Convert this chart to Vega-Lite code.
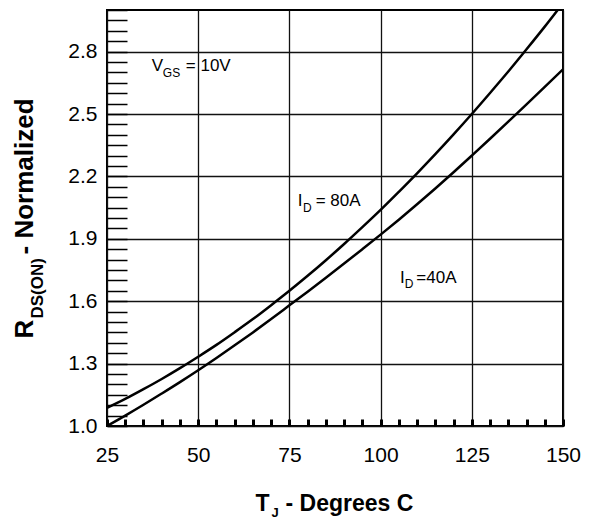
{
  "$schema": "https://vega.github.io/schema/vega-lite/v6.json",
  "width": 456,
  "height": 416,
  "autosize": {"type": "none"},
  "padding": {"left": 107, "top": 10, "right": 34, "bottom": 96},
  "background": "white",
  "config": {
    "view": {"stroke": "#000", "strokeWidth": 2},
    "font": "Liberation Sans",
    "axis": {"labelFont": "Liberation Sans", "titleFont": "Liberation Sans", "labelColor": "#000", "titleColor": "#000", "domain": false}
  },
  "datasets": {
    "curves": [
      {"T": 25, "R": 1.087, "ID": "80A"}, {"T": 30, "R": 1.130, "ID": "80A"}, {"T": 35, "R": 1.177, "ID": "80A"}, {"T": 40, "R": 1.226, "ID": "80A"}, {"T": 45, "R": 1.278, "ID": "80A"}, {"T": 50, "R": 1.333, "ID": "80A"}, {"T": 55, "R": 1.390, "ID": "80A"}, {"T": 60, "R": 1.451, "ID": "80A"}, {"T": 65, "R": 1.514, "ID": "80A"}, {"T": 70, "R": 1.581, "ID": "80A"}, {"T": 75, "R": 1.650, "ID": "80A"}, {"T": 80, "R": 1.722, "ID": "80A"}, {"T": 85, "R": 1.797, "ID": "80A"}, {"T": 90, "R": 1.875, "ID": "80A"}, {"T": 95, "R": 1.956, "ID": "80A"}, {"T": 100, "R": 2.039, "ID": "80A"}, {"T": 105, "R": 2.126, "ID": "80A"}, {"T": 110, "R": 2.215, "ID": "80A"}, {"T": 115, "R": 2.307, "ID": "80A"}, {"T": 120, "R": 2.402, "ID": "80A"}, {"T": 125, "R": 2.500, "ID": "80A"}, {"T": 130, "R": 2.601, "ID": "80A"}, {"T": 135, "R": 2.704, "ID": "80A"}, {"T": 140, "R": 2.811, "ID": "80A"}, {"T": 145, "R": 2.920, "ID": "80A"}, {"T": 150, "R": 3.033, "ID": "80A"},
      {"T": 25, "R": 1.0, "ID": "40A"}, {"T": 30, "R": 1.050, "ID": "40A"}, {"T": 35, "R": 1.102, "ID": "40A"}, {"T": 40, "R": 1.156, "ID": "40A"}, {"T": 45, "R": 1.211, "ID": "40A"}, {"T": 50, "R": 1.268, "ID": "40A"}, {"T": 55, "R": 1.327, "ID": "40A"}, {"T": 60, "R": 1.388, "ID": "40A"}, {"T": 65, "R": 1.450, "ID": "40A"}, {"T": 70, "R": 1.514, "ID": "40A"}, {"T": 75, "R": 1.580, "ID": "40A"}, {"T": 80, "R": 1.646, "ID": "40A"}, {"T": 85, "R": 1.713, "ID": "40A"}, {"T": 90, "R": 1.781, "ID": "40A"}, {"T": 95, "R": 1.850, "ID": "40A"}, {"T": 100, "R": 1.920, "ID": "40A"}, {"T": 105, "R": 1.992, "ID": "40A"}, {"T": 110, "R": 2.066, "ID": "40A"}, {"T": 115, "R": 2.142, "ID": "40A"}, {"T": 120, "R": 2.220, "ID": "40A"}, {"T": 125, "R": 2.300, "ID": "40A"}, {"T": 130, "R": 2.381, "ID": "40A"}, {"T": 135, "R": 2.463, "ID": "40A"}, {"T": 140, "R": 2.546, "ID": "40A"}, {"T": 145, "R": 2.630, "ID": "40A"}, {"T": 150, "R": 2.715, "ID": "40A"}
    ],
    "labels": [
      {"T": 37.3, "R": 2.705, "text": "V"},
      {"T": 46.6, "R": 2.705, "text": "= 10V"},
      {"T": 77.3, "R": 2.06, "text": "I"},
      {"T": 82.2, "R": 2.06, "text": "= 80A"},
      {"T": 105.3, "R": 1.686, "text": "I"},
      {"T": 109.8, "R": 1.686, "text": "=40A"}
    ],
    "subs": [
      {"T": 40.3, "R": 2.68, "text": "GS"},
      {"T": 78.7, "R": 2.03, "text": "D"},
      {"T": 106.6, "R": 1.662, "text": "D"}
    ]
  },
  "resolve": {"axis": {"x": "independent", "y": "independent"}},
  "layer": [
    {
      "data": {"name": "curves"},
      "mark": {"type": "line", "color": "#000", "strokeWidth": 2.5, "interpolate": "monotone", "clip": true},
      "encoding": {
        "x": {"field": "T", "type": "quantitative", "scale": {"domain": [25, 150], "nice": false, "zero": false},
          "axis": {"orient": "bottom", "values": [25, 50, 75, 100, 125, 150], "grid": true, "gridColor": "#111", "gridWidth": 1.3, "gridOpacity": 1, "ticks": false, "labelFontSize": 21, "labelPadding": 18, "labelFlush": false,
            "title": "T", "titleFontSize": 23, "titleFontWeight": "bold", "titleX": 148, "titleY": 84, "titleAlign": "left", "titleBaseline": "alphabetic", "titleAnchor": "start"}},
        "y": {"field": "R", "type": "quantitative", "scale": {"domain": [1.0, 3.0], "nice": false, "zero": false},
          "axis": {"orient": "left", "values": [1.0, 1.3, 1.6, 1.9, 2.2, 2.5, 2.8], "format": ".1f", "grid": true, "gridColor": "#111", "gridWidth": 1.3, "gridOpacity": 1, "ticks": false, "labelFontSize": 21, "labelPadding": 10, "labelBaseline": "middle",
            "title": "R", "titleFontSize": 26, "titleFontWeight": "bold", "titleAngle": 270, "titleX": -75, "titleY": 328, "titleAlign": "left", "titleBaseline": "alphabetic", "titleAnchor": "start"}},
        "detail": {"field": "ID", "type": "nominal"}
      }
    },
    {
      "data": {"name": "curves"},
      "mark": {"type": "line", "strokeOpacity": 0},
      "encoding": {
        "x": {"field": "T", "type": "quantitative",
          "axis": {"orient": "bottom", "values": [25, 30, 35, 40, 45, 50, 55, 60, 65, 70, 75, 80, 85, 90, 95, 100, 105, 110, 115, 120, 125, 130, 135, 140, 145, 150], "grid": false, "labels": false, "ticks": true, "tickSize": -7, "tickWidth": 3, "tickColor": "black", "tickOpacity": 1,
            "title": "J", "titleFontSize": 13, "titleFontWeight": "bold", "titleX": 164, "titleY": 90, "titleAlign": "left", "titleBaseline": "alphabetic", "titleAnchor": "start"}},
        "y": {"field": "R", "type": "quantitative",
          "axis": {"orient": "left", "values": [1.0, 1.05, 1.1, 1.15, 1.2, 1.25, 1.3, 1.35, 1.4, 1.45, 1.5, 1.55, 1.6, 1.65, 1.7, 1.75, 1.8, 1.85, 1.9, 1.95, 2.0, 2.05, 2.1, 2.15, 2.2, 2.25, 2.3, 2.35, 2.4, 2.45, 2.5, 2.55, 2.6, 2.65, 2.7, 2.75, 2.8, 2.85, 2.9, 2.95, 3.0], "grid": false, "labels": false, "ticks": true, "tickSize": -20, "tickWidth": 1.5, "tickColor": "black", "tickOpacity": 1,
            "title": "DS(ON)", "titleFontSize": 17, "titleFontWeight": "bold", "titleAngle": 270, "titleX": -65, "titleY": 308, "titleAlign": "left", "titleBaseline": "alphabetic", "titleAnchor": "start"}},
        "detail": {"field": "ID", "type": "nominal"}
      }
    },
    {
      "data": {"name": "labels"},
      "mark": {"type": "text", "align": "left", "baseline": "alphabetic", "fontSize": 17, "font": "Liberation Sans", "color": "#000"},
      "encoding": {
        "x": {"field": "T", "type": "quantitative",
          "axis": {"orient": "bottom", "values": [25], "grid": false, "labels": false, "ticks": false,
            "title": "- Degrees C", "titleFontSize": 23, "titleFontWeight": "bold", "titleX": 178, "titleY": 84, "titleAlign": "left", "titleBaseline": "alphabetic", "titleAnchor": "start"}},
        "y": {"field": "R", "type": "quantitative",
          "axis": {"orient": "left", "values": [1.0], "grid": false, "labels": false, "ticks": false,
            "title": "- Normalized", "titleFontSize": 26, "titleFontWeight": "bold", "titleAngle": 270, "titleX": -75, "titleY": 244, "titleAlign": "left", "titleBaseline": "alphabetic", "titleAnchor": "start"}},
        "text": {"field": "text"}
      }
    },
    {
      "data": {"name": "subs"},
      "mark": {"type": "text", "align": "left", "baseline": "alphabetic", "fontSize": 12, "font": "Liberation Sans", "color": "#000"},
      "encoding": {
        "x": {"field": "T", "type": "quantitative", "axis": null},
        "y": {"field": "R", "type": "quantitative", "axis": null},
        "text": {"field": "text"}
      }
    }
  ]
}
